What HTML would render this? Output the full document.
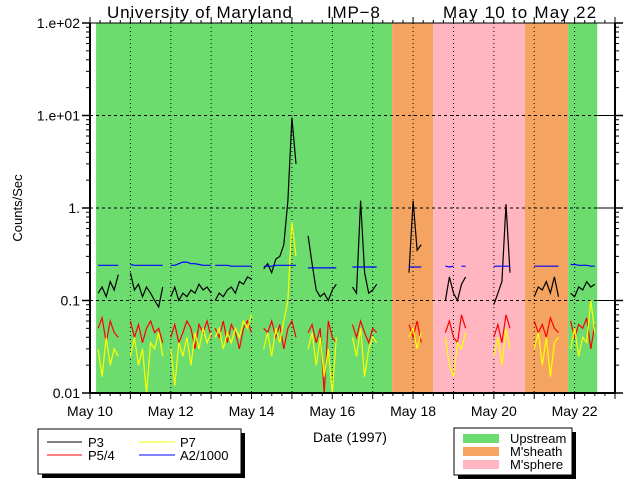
<!DOCTYPE html>
<html><head><meta charset="utf-8"><style>
html,body{margin:0;padding:0;background:#fff;}
svg{display:block;font-family:"Liberation Sans",sans-serif;}
</style></head><body>
<svg id="chart" width="640" height="480" xmlns="http://www.w3.org/2000/svg">
<g id="bg"></g><g id="grid"></g><g id="series"></g><g id="axes"></g>
<g font-size="17" fill="#000">
<text x="107" y="18" letter-spacing="0.8">University of Maryland</text>
<text x="327" y="18" letter-spacing="0.8">IMP−8</text>
<text x="443" y="18" letter-spacing="1.2">May 10 to May 22</text>
</g>
<text x="350" y="442" font-size="14" text-anchor="middle">Date (1997)</text>
<text x="22" y="208" font-size="13" text-anchor="middle" transform="rotate(-90 22 208)">Counts/Sec</text>
<g>
<rect x="42" y="433" width="203" height="45" fill="#000"/>
<rect x="38" y="429" width="203" height="45" fill="#fff" stroke="#000" stroke-width="1"/>
<line x1="47" y1="442" x2="82" y2="442" stroke="#000"/>
<text x="88" y="447" font-size="13">P3</text>
<line x1="47" y1="455" x2="82" y2="455" stroke="#f00"/>
<text x="88" y="460" font-size="13">P5/4</text>
<line x1="139" y1="442" x2="175" y2="442" stroke="#ff0"/>
<text x="180" y="447" font-size="13">P7</text>
<line x1="139" y1="455" x2="175" y2="455" stroke="#00f"/>
<text x="180" y="460" font-size="13">A2/1000</text>
</g>
<g>
<rect x="458" y="432" width="118" height="47" fill="#000"/>
<rect x="454" y="428" width="118" height="47" fill="#fff" stroke="#000" stroke-width="1"/>
<rect x="463" y="434" width="36" height="9" fill="#6ddc6f"/>
<text x="510" y="443" font-size="13">Upstream</text>
<rect x="463" y="447" width="36" height="9" fill="#f4a460"/>
<text x="510" y="456" font-size="13">M'sheath</text>
<rect x="463" y="460" width="36" height="9" fill="#ffb6c1"/>
<text x="510" y="469" font-size="13">M'sphere</text>
</g>
</svg>
<script>
const n = null;
const regionStarts = [10.15, 17.48, 18.5, 20.77, 21.84];
const regionEnds   = [17.48, 18.5, 20.77, 21.84, 22.56];
const regionColors = ['#6ddc6f', '#f4a460', '#ffb6c1', '#f4a460', '#6ddc6f'];
const regionNames  = ['upstream', 'msheath', 'msphere', 'msheath', 'upstream'];
const segStarts = [10.2, 11.0, 12.0, 13.1, 14.3, 15.4, 16.5, 17.9, 18.8, 20.0, 21.0, 21.9];
const segStep = 0.1;
const p3 = [
 [.12,.14,.11,.16,.13,.19],
 [.2,.13,.15,.11,.14,.12,.1,.085,.14],
 [.11,.14,.1,.12,.11,.13,.12,.15,.13,.14,.12],
 [.1,.12,.11,.13,.14,.12,.16,.15,.18,.17],
 [.22,.25,.2,.28,.3,.4,1.2,9.5,3],
 [.5,.25,.13,.11,.12,.1,.13,.15],
 [.14,.12,1.2,.2,.12,.13,.15],
 [.2,1.2,.35,.4],
 [.1,.18,.12,.1,.15,.18],
 [.09,.12,.16,1.1,.2],
 [.11,.14,.13,.16,.12,.18,.11],
 [.12,.11,.14,.13,.16,.14,.15]];
const a2 = [
 [.24,.24,.24,.24,.24,.24],
 [.245,.24,.24,.24,.24,.24,.24,.24,.24],
 [.24,.24,.25,.26,.26,.25,.25,.245,.24,.24,.24],
 [.24,.24,.24,.24,.235,.235,.235,.235,.235,.235],
 [.235,.235,.235,.24,.24,.24,.24,.24,.24],
 [.225,.225,.225,.225,.225,.225,.225,.225],
 [.23,.23,.23,.23,.23,.23,.23],
 [.23,.23,.23,.23],
 [.235,.23,.235,n,.235,.235],
 [.235,.235,.235,.235,.235],
 [.235,.235,.235,.235,.235,.235,.235],
 [.245,.245,.24,.24,.24,.235,.235]];
const p54 = [
 [.05,.065,.035,.06,.045,.04],
 [.06,.04,.055,.035,.05,.06,.045,.05,.035],
 [.04,.055,.035,.045,.06,.05,.03,.055,.045,.06,.04],
 [.05,.04,.06,.035,.055,.045,.03,.05,.06,.045],
 [.05,.045,.06,.04,.055,.03,.05,.06,.04],
 [.045,.055,.035,.05,.01,.06,.04,.035],
 [.055,.04,.06,.045,.035,.05,.045],
 [.055,.04,.06,.035],
 [.045,.06,.04,.035,.07,.05],
 [.04,.055,.035,.07,.05],
 [.06,.045,.055,.04,.065,.05,.045],
 [.06,.04,.055,.05,.065,.03,.055]];
const p7 = [
 [.03,.015,.04,.02,.03,.025],
 [.025,.04,.02,.03,.01,.035,.03,.045,.025],
 [.03,.012,.035,.025,.04,.02,.045,.03,.05,.035,.045],
 [.04,.05,.03,.045,.035,.05,.04,.06,.05,.07],
 [.03,.045,.025,.05,.035,.06,.1,.7,.3],
 [.03,.045,.02,.04,.015,.03,.01,.04],
 [.04,.025,.05,.015,.03,.04,.035],
 [.04,.05,.03,.045],
 [.04,.02,.015,.035,.03,.045],
 [.025,.04,.02,.05,.03],
 [.03,.045,.02,.04,.015,.035,.04],
 [.03,.05,.025,.04,.035,.1,.045]];
const yTickValues = [100, 10, 1, 0.1, 0.01];
const yTickLabels = ['1.e+02', '1.e+01', '1.', '0.1', '0.01'];
const xLabelDays = [10, 12, 14, 16, 18, 20, 22];
const xLabels = ['May 10', 'May 12', 'May 14', 'May 16', 'May 18', 'May 20', 'May 22'];

const X0 = 90, X1 = 615, Y0 = 23, Y1 = 393, D0 = 10, D1 = 23;
function xs(d){ return X0 + (d - D0) / (D1 - D0) * (X1 - X0); }
function ys(v){ return Y1 - (Math.log10(v) + 2) / 4 * (Y1 - Y0); }
const NS = 'http://www.w3.org/2000/svg';
function mk(tag, attrs, parent){ const e = document.createElementNS(NS, tag); for (const k in attrs) e.setAttribute(k, attrs[k]); parent.appendChild(e); return e; }
const bg = document.getElementById('bg'), grid = document.getElementById('grid'), ser = document.getElementById('series'), ax = document.getElementById('axes');

regionStarts.forEach((s, i) => {
  const r = mk('rect', {x: xs(s), y: Y0, width: xs(regionEnds[i]) - xs(s), height: Y1 - Y0, fill: regionColors[i]}, bg);
  
  
});
for (let d = 11; d <= 22; d++) {
  const l = mk('line', {x1: xs(d), y1: Y0, x2: xs(d), y2: Y1, stroke: '#000', 'stroke-width': 1, 'stroke-dasharray': '1,3'}, grid);
  
  
}
[10, 1, 0.1].forEach(v => {
  const l = mk('line', {x1: X0, y1: ys(v), x2: xs(regionEnds[regionEnds.length-1]), y2: ys(v), stroke: '#000', 'stroke-width': 1, 'stroke-dasharray': '3,3'}, grid);
  
  
  mk('line', {x1: xs(regionEnds[regionEnds.length-1]), y1: ys(v), x2: X1, y2: ys(v), stroke: '#000', 'stroke-width': 1}, grid);
});

function drawSeries(data, color, name){
  const g = mk('g', {}, ser);
  
  
  data.forEach((seg, si) => {
    let d = '', pen = false;
    seg.forEach((v, j) => {
      if (v === null) { pen = false; return; }
      const x = xs(segStarts[si] + j * segStep), y = ys(v);
      d += (pen ? 'L' : 'M') + x.toFixed(1) + ' ' + y.toFixed(1);
      pen = true;
    });
    const p = mk('path', {d: d, fill: 'none', stroke: color, 'stroke-width': 1.2}, g);
    
    
  });
}
drawSeries(p54, '#ff0000', 'p5-4');
drawSeries(p7, '#ffff00', 'p7');
drawSeries(p3, '#000000', 'p3');
drawSeries(a2, '#0000ff', 'a2-1000');

mk('line', {x1: X0, y1: Y0, x2: X0, y2: Y1, stroke: '#000', 'stroke-width': 2}, ax);
mk('line', {x1: X1, y1: Y0, x2: X1, y2: Y1, stroke: '#000', 'stroke-width': 2}, ax);
mk('line', {x1: X0, y1: Y1, x2: X1, y2: Y1, stroke: '#000', 'stroke-width': 2}, ax);
mk('line', {x1: X0, y1: Y0, x2: X1, y2: Y0, stroke: '#000', 'stroke-width': 1}, ax);
for (let e = -2; e < 2; e++) {
  for (let m = 2; m <= 9; m++) {
    const y = ys(m * Math.pow(10, e));
    mk('line', {x1: X0 - 4, y1: y, x2: X0, y2: y, stroke: '#000'}, ax);
    mk('line', {x1: X1, y1: y, x2: X1 + 4, y2: y, stroke: '#000'}, ax);
  }
}
yTickValues.forEach((v, i) => {
  const y = ys(v);
  mk('line', {x1: X0 - 8, y1: y, x2: X0, y2: y, stroke: '#000', 'stroke-width': 1.5}, ax);
  mk('line', {x1: X1, y1: y, x2: X1 + 8, y2: y, stroke: '#000', 'stroke-width': 1.5}, ax);
  const t = mk('text', {x: X0 - 10, y: y + 5, 'font-size': 14, 'text-anchor': 'end'}, ax);
  t.textContent = yTickLabels[i];
  
  
});
for (let q = 0; q <= (D1 - D0) * 4; q++) {
  const d = D0 + q / 4, x = xs(d), major = q % 4 === 0;
  const len = major ? 6 : 3;
  mk('line', {x1: x, y1: Y1, x2: x, y2: Y1 + len, stroke: '#000'}, ax);
  mk('line', {x1: x, y1: Y0 - len, x2: x, y2: Y0, stroke: '#000'}, ax);
}
xLabelDays.forEach((d, i) => {
  const t = mk('text', {x: xs(d), y: 416, 'font-size': 14, 'text-anchor': 'middle'}, ax);
  t.textContent = xLabels[i];
  
  
});
</script>
</body></html>
